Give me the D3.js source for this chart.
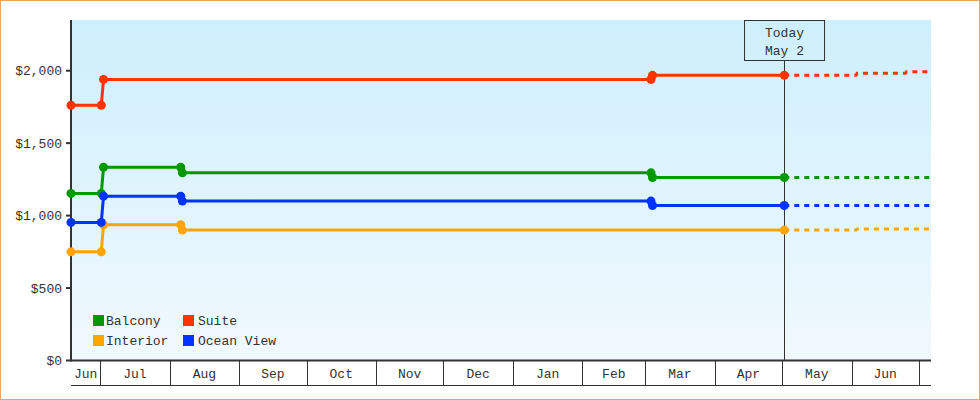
<!DOCTYPE html>
<html><head><meta charset="utf-8">
<script src="https://cdn.jsdelivr.net/npm/d3@7"></script>
<style>
body{margin:0;background:#fff}
svg{display:block;font-family:"Liberation Mono","DejaVu Sans Mono",monospace;font-size:13px}
</style>
</head><body><svg id="c" width="980" height="400"></svg>
<script>
// ---- data ----
const seriesNames = ["Balcony", "Interior", "Suite", "Ocean View"];
const seriesColors = ["#009900", "#ffa500", "#ff3300", "#0033ff"];

const balconyDates = ["2022-06-18T00:00","2022-07-01T12:00","2022-07-02T12:00","2022-08-05T22:00","2022-08-06T16:00","2023-03-03T14:00","2023-03-04T06:00","2023-05-02T00:00"];
const balconyPrices = [1153, 1153, 1334, 1334, 1295, 1295, 1263, 1263];

const interiorDates = ["2022-06-18T00:00","2022-07-01T12:00","2022-07-02T12:00","2022-08-05T22:00","2022-08-06T16:00","2023-05-02T00:00"];
const interiorPrices = [750, 750, 937, 937, 900, 900];

const suiteDates = ["2022-06-18T00:00","2022-07-01T12:00","2022-07-02T12:00","2023-03-03T14:00","2023-03-04T06:00","2023-05-02T00:00"];
const suitePrices = [1762, 1762, 1940, 1940, 1968, 1968];

const oceanDates = ["2022-06-18T00:00","2022-07-01T12:00","2022-07-02T12:00","2022-08-05T22:00","2022-08-06T16:00","2023-03-03T14:00","2023-03-04T06:00","2023-05-02T00:00"];
const oceanPrices = [953, 953, 1134, 1134, 1100, 1100, 1070, 1070];

const forecastDates = ["2023-05-02T00:00","2023-06-03T00:00","2023-06-03T12:00","2023-06-25T00:00","2023-06-25T12:00","2023-07-06T10:00"];
const balconyForecast = [1263, 1263, 1263, 1263, 1263, 1263];
const interiorForecast = [900, 900, 907, 907, 907, 907];
const suiteForecast = [1968, 1968, 1983, 1983, 1992, 1992];
const oceanForecast = [1070, 1070, 1070, 1070, 1070, 1070];

const yTicks = [0, 500, 1000, 1500, 2000];
const monthLabels = ["Jun","Jul","Aug","Sep","Oct","Nov","Dec","Jan","Feb","Mar","Apr","May","Jun","Jul"];
const todayDate = "2023-05-02T00:00";
const todayLines = ["Today", "May 2"];
const domainStart = "2022-06-18T00:00", domainEnd = "2023-07-06T10:00";
const yMax = 2350;

// ---- layout ----
const svg = d3.select("#c");
const L = 71, R = 931, T = 20, B = 360.5;
const parse = s => new Date(s);
const x = d3.scaleTime().domain([parse(domainStart), parse(domainEnd)]).range([L, R]);
const y = d3.scaleLinear().domain([0, yMax]).range([B, T]);
const ink = "#333";

// frame
svg.append("rect").attr("x",0.5).attr("y",0.5).attr("width",979).attr("height",399)
  .attr("fill","#fff").attr("stroke","#e6a660").attr("stroke-width",1);

// gradient background
const defs = svg.append("defs");
const g = defs.append("linearGradient").attr("id","bg").attr("x1",0).attr("y1",0).attr("x2",0).attr("y2",1);
g.append("stop").attr("offset","0%").attr("stop-color","#cdeffc");
g.append("stop").attr("offset","100%").attr("stop-color","#f1f9fe");
svg.append("rect").attr("x",L).attr("y",T).attr("width",R-L).attr("height",B-T).attr("fill","url(#bg)");

// y axis
const yAxis = svg.append("g");
yAxis.append("line").attr("x1",L).attr("x2",L).attr("y1",T).attr("y2",B+1).attr("stroke",ink).attr("stroke-width",2);
yTicks.forEach(v => {
  yAxis.append("line").attr("x1",L-5).attr("x2",L).attr("y1",y(v)).attr("y2",y(v)).attr("stroke",ink).attr("stroke-width",2);
  yAxis.append("text").attr("x",L-9).attr("y",y(v)).attr("dy","0.35em").attr("text-anchor","end")
    .attr("fill",ink).text("$" + d3.format(",")(v));
});

// x axis (month bands)
const xAxis = svg.append("g");
xAxis.append("line").attr("x1",L).attr("x2",R).attr("y1",B).attr("y2",B).attr("stroke",ink).attr("stroke-width",2);
xAxis.append("line").attr("x1",L).attr("x2",R).attr("y1",385.5).attr("y2",385.5).attr("stroke",ink).attr("stroke-width",1);
const d0 = x.domain()[0], d1 = x.domain()[1];
const bounds = d3.timeMonth.range(d3.timeMonth.ceil(d0), d1);
bounds.forEach(m => {
  const px = Math.round(x(m)) + 0.5;
  xAxis.append("line").attr("x1",px).attr("x2",px).attr("y1",B).attr("y2",385).attr("stroke",ink).attr("stroke-width",1);
});
const edges = [d0, ...bounds, d1];
for (let i = 0; i < edges.length - 1; i++) {
  const a = x(edges[i]), b = x(edges[i+1]);
  if (b - a < 25) continue;
  xAxis.append("text").attr("x",(a+b)/2).attr("y",378).attr("text-anchor","middle").attr("fill",ink).text(monthLabels[i]);
}

// today marker
const tx = Math.round(x(parse(todayDate))) + 0.5;
svg.append("line").attr("x1",tx).attr("x2",tx).attr("y1",T+40).attr("y2",B).attr("stroke",ink).attr("stroke-width",1);
svg.append("rect").attr("x",tx-40).attr("y",T+0.5).attr("width",80).attr("height",40).attr("fill","none").attr("stroke",ink).attr("stroke-width",1);
todayLines.forEach((t,i) => {
  svg.append("text").attr("x",tx).attr("y",37 + i*18).attr("text-anchor","middle").attr("fill",ink).text(t);
});

// series
const hist = [
  [balconyDates, balconyPrices, balconyForecast],
  [interiorDates, interiorPrices, interiorForecast],
  [suiteDates, suitePrices, suiteForecast],
  [oceanDates, oceanPrices, oceanForecast]
];
const line = d3.line().x(d => x(d[0])).y(d => y(d[1]));
hist.forEach(([ds, vs, fc], i) => {
  const pts = ds.map((d,k) => [parse(d), vs[k]]);
  const fpts = forecastDates.map((d,k) => [parse(d), fc[k]]);
  const col = seriesColors[i];
  svg.append("path").attr("d", line(fpts)).attr("fill","none").attr("stroke",col).attr("stroke-width",3).attr("stroke-dasharray","5,5");
  svg.append("path").attr("d", line(pts)).attr("fill","none").attr("stroke",col).attr("stroke-width",3);
  svg.selectAll(null).data(pts).enter().append("circle")
    .attr("cx", d => x(d[0])).attr("cy", d => y(d[1])).attr("r",4.5).attr("fill",col);
});

// legend
const legendOrder = [0, 2, 1, 3];
legendOrder.forEach((si, k) => {
  const col = k % 2, row = Math.floor(k / 2);
  const lx = 93 + col * 90, ly = 315 + row * 20;
  svg.append("rect").attr("x",lx).attr("y",ly).attr("width",11).attr("height",11).attr("fill",seriesColors[si]);
  svg.append("text").attr("x",lx + 13 + col * 2).attr("y",ly+10).attr("fill",ink).text(seriesNames[si]);
});
</script>
</body></html>
